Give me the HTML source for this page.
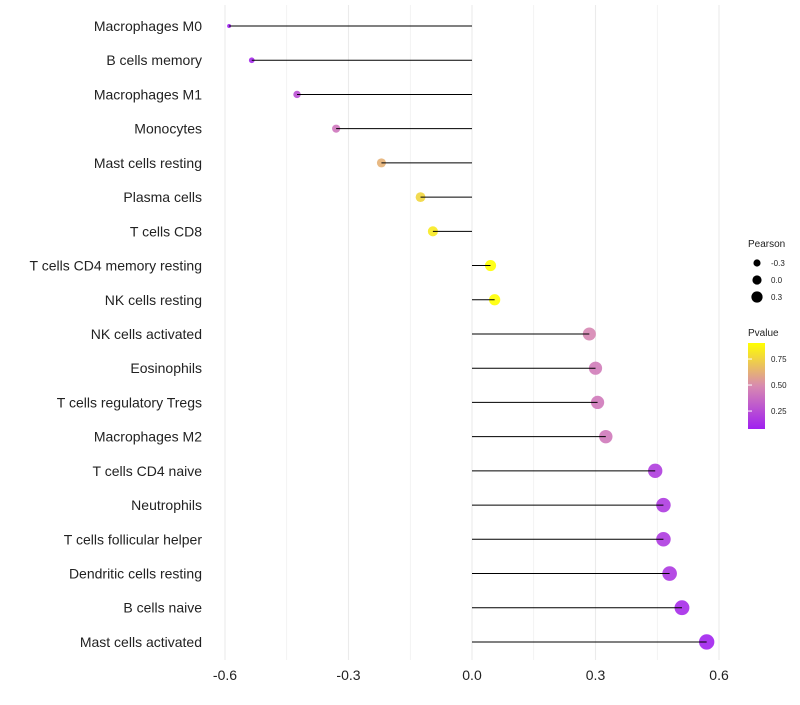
<!DOCTYPE html>
<html><head><meta charset="utf-8"><style>
body{margin:0;background:#fff;font-family:"Liberation Sans",sans-serif}
</style></head><body>
<svg id="c" width="800" height="700" xmlns="http://www.w3.org/2000/svg">
<defs><linearGradient id="pg" x1="0" y1="1" x2="0" y2="0">
<stop offset="0" stop-color="#A020F0"/><stop offset="0.5" stop-color="#D88AB0"/><stop offset="1" stop-color="#FFFF00"/></linearGradient></defs>
</svg>
<script>
const categories=["Macrophages M0","B cells memory","Macrophages M1","Monocytes","Mast cells resting","Plasma cells","T cells CD8","T cells CD4 memory resting","NK cells resting","NK cells activated","Eosinophils","T cells regulatory  Tregs ","Macrophages M2","T cells CD4 naive","Neutrophils","T cells follicular helper","Dendritic cells resting","B cells naive","Mast cells activated"];
const pearson=[-0.59,-0.535,-0.425,-0.33,-0.22,-0.125,-0.095,0.045,0.055,0.285,0.30,0.305,0.325,0.445,0.465,0.465,0.48,0.51,0.57];
const pvalues=[0.09,0.12,0.27,0.42,0.63,0.76,0.83,0.95,0.95,0.48,0.44,0.43,0.43,0.2,0.19,0.19,0.18,0.13,0.1];
const xTicks=[-0.6,-0.3,0.0,0.3,0.6];
const sizeLegend=[-0.3,0.0,0.3];
const colorTicks=[0.75,0.50,0.25];
const NS="http://www.w3.org/2000/svg",svg=document.getElementById('c');
const x=v=>472+v*411.7, y=i=>26+i*34.22;
const rad=v=>Math.min(5.4+4*v,1.3*Math.sqrt(Math.max(1,29.6+46.3*v)));
function lerp(a,b,t){return a.map((c,k)=>Math.round(c+(b[k]-c)*t));}
function col(p){const t=Math.max(0,Math.min(1,(p-0.087)/(0.904-0.087)));
const P=[160,32,240],M=[216,138,176],Y=[255,255,0];
const c=t<0.5?lerp(P,M,t*2):lerp(M,Y,(t-0.5)*2);return `rgb(${c})`;}
function el(t,a,txt){const e=document.createElementNS(NS,t);for(const k in a)e.setAttribute(k,a[k]);if(txt!=null)e.textContent=txt;svg.appendChild(e);return e;}
[-0.6,-0.45,-0.3,-0.15,0,0.15,0.3,0.45,0.6].forEach(v=>{const g=el('line',{x1:x(v),x2:x(v),y1:5,y2:660,stroke:'#ebebeb','stroke-width':Math.abs(Math.round(v*100))%30===0?1.1:0.6});

});
xTicks.forEach(v=>{const t=el('text',{x:x(v),y:680,'font-size':14,'text-anchor':'middle',fill:'#222'},v.toFixed(1));

});
categories.forEach((c,i)=>{const t=el('text',{x:202,y:y(i)+5,'font-size':14,'text-anchor':'end',fill:'#222'},c);


const d=el('circle',{cx:x(pearson[i]),cy:y(i),r:rad(pearson[i]),fill:col(pvalues[i]),'fill-opacity':0.9});


const l=el('line',{x1:x(0),x2:x(pearson[i]),y1:y(i),y2:y(i),stroke:'#000','stroke-width':1});

});
let t=el('text',{x:748,y:247,'font-size':10,fill:'#222'},'Pearson');


sizeLegend.forEach((v,i)=>{const d=el('circle',{cx:757,cy:263+i*17,r:rad(v)*0.85,fill:'#000'});


const s=el('text',{x:771,y:266+i*17,'font-size':8,fill:'#222'},v.toFixed(1));

});
t=el('text',{x:748,y:336,'font-size':10,fill:'#222'},'Pvalue');


const r=el('rect',{x:748,y:343,width:17,height:86,fill:'url(#pg)'});


colorTicks.forEach(v=>{const yy=428-(v-0.087)/(0.904-0.087)*85;
const s=el('text',{x:771,y:yy+3,'font-size':8,fill:'#222'},v.toFixed(2));


const k=el('line',{x1:748,x2:752,y1:yy,y2:yy,stroke:'#fff'});

});
</script></body></html>
